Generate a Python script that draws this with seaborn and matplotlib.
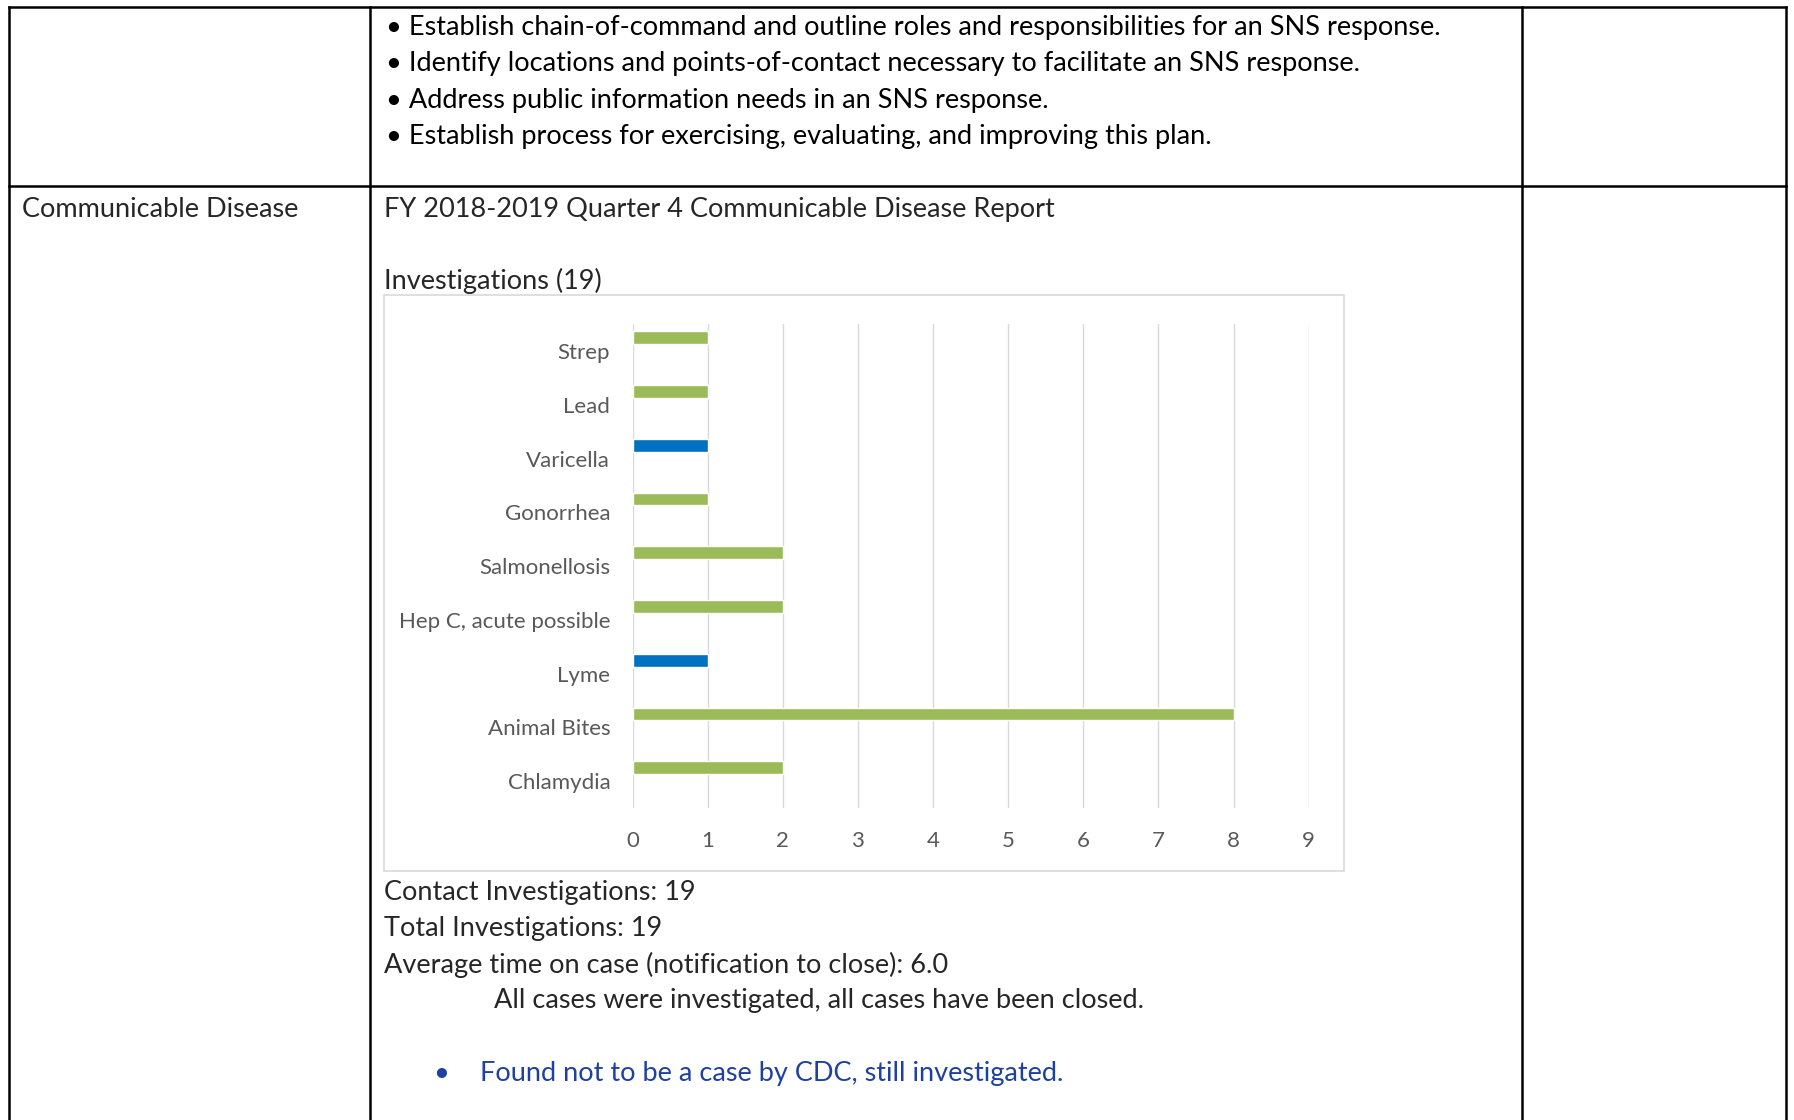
import pandas as pd
import matplotlib.pyplot as plt
import seaborn as sns
from matplotlib.patches import Rectangle

# chart data
diseases = ["Strep", "Lead", "Varicella", "Gonorrhea", "Salmonellosis",
            "Hep C, acute possible", "Lyme", "Animal Bites", "Chlamydia"]
counts = [1, 1, 1, 1, 2, 2, 1, 8, 2]
status = ["Case", "Case", "Not a case", "Case", "Case",
          "Case", "Not a case", "Case", "Case"]
x_ticks = list(range(10))

plan_bullets = [
    "\u2022 Establish chain-of-command and outline roles and responsibilities for an SNS response.",
    "\u2022 Identify locations and points-of-contact necessary to facilitate an SNS response.",
    "\u2022 Address public information needs in an SNS response.",
    "\u2022 Establish process for exercising, evaluating, and improving this plan.",
]
summary_lines = [
    "Contact Investigations: 19",
    "Total Investigations: 19",
    "Average time on case (notification to close): 6.0",
]

sns.set_theme(style="white")
plt.rcParams["font.family"] = ["Lato", "DejaVu Sans"]

W, H = 1794, 1120
fig = plt.figure(figsize=(W / 100, H / 100), dpi=100)
fig.patch.set_facecolor("white")

# page overlay in pixel coordinates
page = fig.add_axes([0, 0, 1, 1], zorder=0)
page.set_xlim(0, W)
page.set_ylim(H, 0)
page.axis("off")

lw = 1.8
for x in [9, 370, 1522, 1786]:
    page.plot([x, x], [7, H], color="black", lw=lw, solid_capstyle="projecting")
for y in [7, 186]:
    page.plot([9, 1786], [y, y], color="black", lw=lw, solid_capstyle="projecting")

body = 19.5
dy = 2.5
for i, line in enumerate(plan_bullets):
    page.text(386, 25 + dy + i * 36.3, line, fontsize=body, va="center", color="black")

page.text(22, 207 + dy, "Communicable Disease", fontsize=body, va="center")
page.text(384, 207 + dy, "FY 2018-2019 Quarter 4 Communicable Disease Report", fontsize=body, va="center")
page.text(384, 278 + dy, "Investigations (19)", fontsize=body, va="center")
for i, line in enumerate(summary_lines):
    page.text(384, 890 + dy + i * 36, line, fontsize=body, va="center")
page.text(494, 998 + dy, "All cases were investigated, all cases have been closed.", fontsize=body, va="center")
page.text(433, 1071 + dy, "\u2022", fontsize=body, va="center", color="#1E40A0")
page.text(480, 1071 + dy, "Found not to be a case by CDC, still investigated.", fontsize=body,
          va="center", color="#1E40A0")

# chart frame
page.add_patch(Rectangle((384, 295), 960, 576, fill=False, edgecolor="#D9D9D9", lw=1.2))

# bar chart
ax = fig.add_axes([632.5 / W, 1 - 808 / H, 676.25 / W, 483.6 / H], zorder=1)
ax.set_facecolor("none")
df = pd.DataFrame({"disease": diseases, "count": counts, "status": status})
sns.barplot(data=df, y="disease", x="count", hue="status", orient="h",
            palette={"Case": "#9BBB59", "Not a case": "#0070C0"},
            saturation=1, dodge=False, width=0.24, legend=False, ax=ax)
# Excel-style offset of bars toward the top of each category band
for p in ax.patches:
    p.set_y(p.get_y() - 0.25)

ax.set_xlim(0, 9)
ax.set_ylim(len(diseases) - 0.5, -0.5)
ax.set_xticks(x_ticks)
for x in x_ticks:
    ax.axvline(x, color="#D9D9D9", lw=1.0, zorder=0)
sns.despine(ax=ax, left=True, bottom=True)
ax.set_xlabel("")
ax.set_ylabel("")
ax.tick_params(axis="x", length=0, pad=16.5, labelsize=16, labelcolor="#595959")
ax.tick_params(axis="y", length=0, pad=16, labelsize=16, labelcolor="#595959")
ax.grid(False)

fig.savefig("out.png", dpi=100, facecolor="white")
